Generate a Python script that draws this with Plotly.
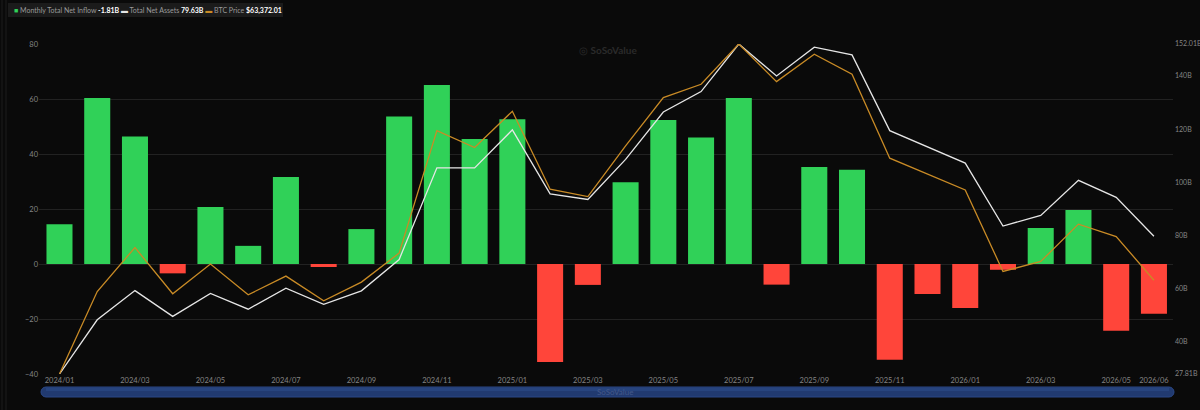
import plotly.graph_objects as go

months = ["2024/01", "2024/02", "2024/03", "2024/04", "2024/05", "2024/06",
          "2024/07", "2024/08", "2024/09", "2024/10", "2024/11", "2024/12",
          "2025/01", "2025/02", "2025/03", "2025/04", "2025/05", "2025/06",
          "2025/07", "2025/08", "2025/09", "2025/10", "2025/11", "2025/12",
          "2026/01", "2026/02", "2026/03", "2026/04", "2026/05", "2026/06"]

net_inflow = [14.5, 60.4, 46.4, -3.4, 20.7, 6.6, 31.6, -1.1, 12.7, 53.6,
              65.1, 45.5, 52.6, -35.6, -7.6, 29.7, 52.4, 46.0, 60.4, -7.5,
              35.3, 34.3, -34.8, -10.9, -16.0, -2.1, 13.1, 19.6, -24.3, -18.1]

net_assets = [27.81, 48.2, 59.2, 49.5, 58.1, 52.2, 60.1, 54.0, 59.1, 70.9,
              105.4, 105.4, 119.7, 95.6, 93.5, 108.6, 126.4, 134.1, 152.01, 140.0,
              150.8, 147.9, 119.4, 113.4, 107.2, 83.5, 87.5, 100.7, 94.3, 79.63]

btc_price = [42580, 60880, 70630, 60370, 66950, 60150, 64290, 58820, 62960, 69390,
             96550, 92790, 100850, 83570, 81930, 93160, 103860, 106830, 115760, 107410,
             113480, 109050, 90440, 86960, 83410, 65310, 67530, 75810, 73070, 63372.01]

x_tick_labels = ["2024/01", "2024/03", "2024/05", "2024/07", "2024/09", "2024/11",
                 "2025/01", "2025/03", "2025/05", "2025/07", "2025/09", "2025/11",
                 "2026/01", "2026/03", "2026/05", "2026/06"]
left_ticks = [-40, -20, 0, 20, 40, 60, 80]
right_ticks = [27.81, 40, 60, 80, 100, 120, 140, 152.01]
right_tick_text = ["27.81B", "40B", "60B", "80B", "100B", "120B", "140B", "152.01B"]

legend_inflow = "-1.81B"
legend_assets = "79.63B"
legend_btc = "$63,372.01"

GREEN = "#30d158"
RED = "#ff453a"
ORANGE = "#c98b26"
WHITE = "#e6e6e6"
BG = "#0a0a0a"
GRID = "#222222"
TICK = "#858585"
FONT = "Lato, Roboto, sans-serif"

W, H = 1200, 410
L, R, T, B = 39, 27, 44, 36
pw, ph = W - L - R, H - T - B


def px(xp):
    return (xp - L) / pw


def py(yp):
    return (H - B - yp) / ph


fig = go.Figure()
fig.add_trace(go.Bar(
    x=months, y=net_inflow, width=0.69,
    marker=dict(color=[GREEN if v >= 0 else RED for v in net_inflow], line_width=0),
    name="Monthly Total Net Inflow", yaxis="y"))
fig.add_trace(go.Scatter(
    x=months, y=btc_price, mode="lines", line=dict(color=ORANGE, width=1.3),
    name="BTC Price", yaxis="y3"))
fig.add_trace(go.Scatter(
    x=months, y=net_assets, mode="lines", line=dict(color=WHITE, width=1.3),
    name="Total Net Assets", yaxis="y2"))

fig.update_layout(
    template="none",
    width=W, height=H,
    margin=dict(l=L, r=R, t=T, b=B),
    paper_bgcolor=BG, plot_bgcolor=BG,
    showlegend=False,
    font=dict(family=FONT, color=TICK, size=8),
    xaxis=dict(type="category", categoryorder="array", categoryarray=months,
               range=[-0.543, 29.505], tickvals=x_tick_labels, ticktext=x_tick_labels,
               showgrid=False, zeroline=False, showline=False, ticks="",
               tickfont=dict(size=7.5, color=TICK), automargin=False),
    yaxis=dict(range=[-40, 80], tickvals=left_ticks, showgrid=True, gridcolor=GRID,
               gridwidth=1, zeroline=False, showline=False, ticks="",
               tickfont=dict(size=7.5, color=TICK), automargin=False),
    yaxis2=dict(overlaying="y", side="right", range=[min(net_assets), max(net_assets)],
                tickvals=right_ticks, ticktext=right_tick_text, showgrid=False,
                zeroline=False, showline=False, ticks="", ticklabelstandoff=1,
                tickfont=dict(size=7, color=TICK), automargin=False),
    yaxis3=dict(overlaying="y", visible=False, range=[min(btc_price), max(btc_price)]),
)

shapes = []
# left panel border lines
for xl in (2, 6):
    shapes.append(dict(type="line", xref="paper", yref="paper", x0=px(xl), x1=px(xl),
                       y0=py(0), y1=py(H), line=dict(color="#1c1c1c", width=1), layer="below"))
# legend background
shapes.append(dict(type="rect", xref="paper", yref="paper", x0=px(8), x1=px(283),
                   y0=py(3), y1=py(17), fillcolor="#1b1b1b", line=dict(width=0), layer="below"))
# data-zoom slider
slider_path = ("M 7,-13 L 1130,-13 C 1132.76,-13 1135,-15.24 1135,-18 "
               "C 1135,-20.76 1132.76,-23 1130,-23 L 7,-23 "
               "C 4.24,-23 2,-20.76 2,-18 C 2,-15.24 4.24,-13 7,-13 Z")
shapes.append(dict(type="path", xref="paper", yref="paper", xsizemode="pixel",
                   ysizemode="pixel", xanchor=0, yanchor=0, path=slider_path,
                   fillcolor="#213a70", line=dict(color="#2a4784", width=1)))
shapes.append(dict(type="path", xref="paper", yref="paper", xsizemode="pixel",
                   ysizemode="pixel", xanchor=0, yanchor=0,
                   path="M 7,-14 L 1130,-14 L 1130,-17 L 7,-17 Z",
                   fillcolor="#2d4c8a", line=dict(width=0), opacity=0.55))
fig.update_layout(shapes=shapes)

legend_html = (
    f"<span style='color:{GREEN}'>■</span> Monthly Total Net Inflow "
    f"<b><span style='color:#ffffff'>{legend_inflow}</span></b> "
    f"<span style='color:{WHITE}'>▬</span> Total Net Assets "
    f"<b><span style='color:#ffffff'>{legend_assets}</span></b> "
    f"<span style='color:{ORANGE}'>▬</span> BTC Price "
    f"<b><span style='color:#ffffff'>{legend_btc}</span></b>"
)
fig.add_annotation(text=legend_html, xref="paper", yref="paper", x=px(12), y=py(10),
                   xanchor="left", yanchor="middle", showarrow=False,
                   font=dict(family=FONT, size=7, color="#9a9a9a"))
fig.add_annotation(text="◎ <b>SoSoValue</b>", xref="paper", yref="paper", x=px(608), y=py(50),
                   xanchor="center", yanchor="middle", showarrow=False,
                   font=dict(family=FONT, size=10, color="#2a2a2a"))
fig.add_annotation(text="SoSoValue", xref="paper", yref="paper", x=px(615), y=py(392),
                   xanchor="center", yanchor="middle", showarrow=False,
                   font=dict(family=FONT, size=8, color="#44598a"))

fig.write_html("out.html")
